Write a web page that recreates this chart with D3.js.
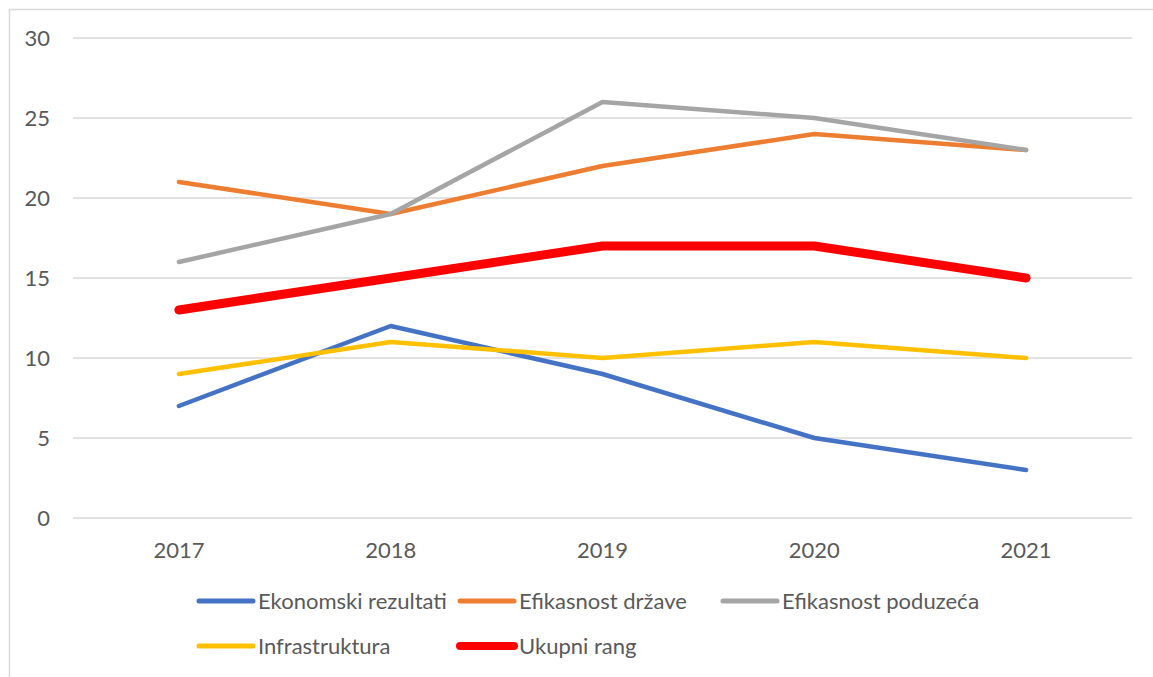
<!DOCTYPE html>
<html><head><meta charset="utf-8">
<script src="https://cdn.jsdelivr.net/npm/d3@7"></script>
<style>body{margin:0;background:#fff}svg{display:block}text{font-family:Lato,"Open Sans",sans-serif;fill:#595959}</style>
</head><body>
<script>
const years = ["2017","2018","2019","2020","2021"];
const ekonomski = [7,12,9,5,3];
const drzava = [21,19,22,24,23];
const poduzeca = [16,19,26,25,23];
const infrastruktura = [9,11,10,11,10];
const ukupni = [13,15,17,17,15];
const yTicks = [0,5,10,15,20,25,30];
const seriesNames = ["Ekonomski rezultati","Efikasnost države","Efikasnost poduzeća","Infrastruktura","Ukupni rang"];
const seriesColors = ["#4472C4","#ED7D31","#A5A5A5","#FFC000","#FF0000"];
const seriesWidths = [4.5,4.5,4.5,4.5,9];
const series = [ekonomski,drzava,poduzeca,infrastruktura,ukupni].map((v,i)=>({name:seriesNames[i],values:v,color:seriesColors[i],w:seriesWidths[i]}));

const W=1153,H=677;
const svg=d3.select("body").append("svg").attr("width",W).attr("height",H);
svg.append("rect").attr("x",9.5).attr("y",9.5).attr("width",W).attr("height",H).attr("fill","none").attr("stroke","#d9d9d9").attr("stroke-width",1.5);

const x=d3.scaleBand().domain(years).range([73,1132]);
const y=d3.scaleLinear().domain([0,30]).range([518,38]);

const g=svg.append("g");
g.selectAll("line.grid").data(yTicks).join("line").attr("class","grid")
 .attr("x1",73).attr("x2",1132).attr("y1",d=>y(d)).attr("y2",d=>y(d))
 .attr("stroke","#d9d9d9").attr("stroke-width",1.5);
g.selectAll("text.yl").data(yTicks).join("text").attr("class","yl")
 .attr("x",50).attr("y",d=>y(d)).attr("dy","0.35em").attr("text-anchor","end")
 .style("font-size","22px").text(d=>d);
g.selectAll("text.xl").data(years).join("text").attr("class","xl")
 .attr("x",d=>x(d)+x.bandwidth()/2).attr("y",550).attr("dy","0.35em").attr("text-anchor","middle")
 .style("font-size","22px").text(d=>d);

const line=d3.line().x((d,i)=>x(years[i])+x.bandwidth()/2).y(d=>y(d));
g.selectAll("path.s").data(series).join("path").attr("class","s")
 .attr("d",d=>line(d.values)).attr("fill","none").attr("stroke",d=>d.color)
 .attr("stroke-width",d=>d.w).attr("stroke-linecap","round").attr("stroke-linejoin","round");

const legPos=[[199,601],[460,601],[723,601],[199,646],[460,646]];
const lg=svg.selectAll("g.leg").data(series).join("g").attr("class","leg")
 .attr("transform",(d,i)=>`translate(${legPos[i][0]},${legPos[i][1]})`);
lg.append("line").attr("x1",0).attr("x2",54).attr("stroke",d=>d.color)
 .attr("stroke-width",d=>d.w===9?8:5).attr("stroke-linecap","round");
lg.append("text").attr("x",59).attr("dy","0.35em").style("font-size","22px").each(function(d){
  const t=d3.select(this);
  if(d.name.endsWith("ća")){
    t.append("tspan").text(d.name.slice(0,-1));
    t.append("tspan").style("font-family","'DejaVu Sans Mono'").style("font-size","20px").text("a");
  } else t.text(d.name);
});
</script>
</body></html>
